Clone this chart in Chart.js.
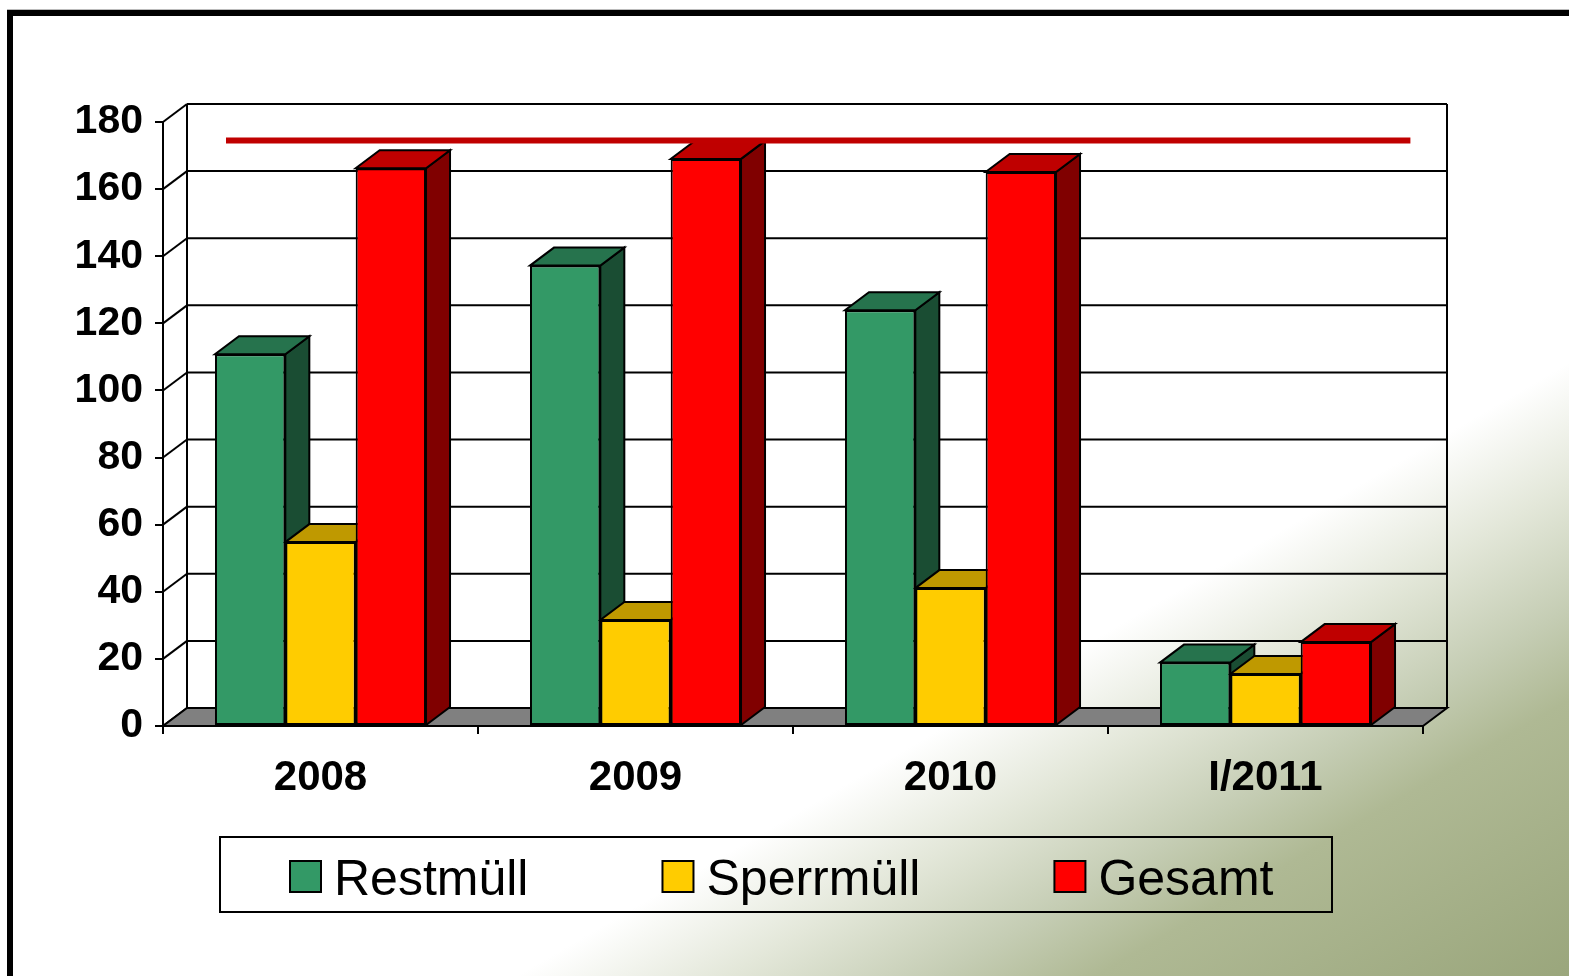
<!DOCTYPE html>
<html>
<head>
<meta charset="utf-8">
<script src="https://cdn.jsdelivr.net/npm/chart.js@4.4.1/dist/chart.umd.min.js"></script>
<style>
  html, body { margin: 0; padding: 0; background: #fff; }
  #wrap { width: 1569px; height: 976px; }
</style>
</head>
<body>
<div id="wrap"><canvas id="chart" width="1569" height="976"></canvas></div>
<script>
// Daten
const categories = ['2008', '2009', '2010', 'I/2011'];
const restmuell = [110.8, 137.2, 123.9, 18.9];
const sperrmuell = [54.8, 31.6, 41.1, 15.5];
const gesamt = [166.2, 169.0, 165.1, 25.0];
const limitLevel = 174.5;
const limitSpan = [-0.3, 3.46]; // in Kategorie-Einheiten
const yMin = 0, yMax = 180, yStep = 20;

const FONT = '"Liberation Sans", Arial, sans-serif';
// 3D-Tiefe
const DX = 24, DY = -18;

function poly(ctx, pts, fill) {
    ctx.beginPath();
    ctx.moveTo(pts[0][0], pts[0][1]);
    for (let i = 1; i < pts.length; i++) ctx.lineTo(pts[i][0], pts[i][1]);
    ctx.closePath();
    if (fill) { ctx.fillStyle = fill; ctx.fill(); }
    ctx.stroke();
}

function line(ctx, x1, y1, x2, y2) {
    ctx.beginPath();
    ctx.moveTo(x1, y1);
    ctx.lineTo(x2, y2);
    ctx.stroke();
}

// Hintergrund mit Verlauf und Rahmen
const backgroundPlugin = {
    id: 'background',
    beforeDraw(chart) {
        const ctx = chart.ctx;
        const w = chart.width, h = chart.height;
        ctx.save();
        ctx.fillStyle = '#ffffff';
        ctx.fillRect(0, 0, w, h);
        const g = ctx.createLinearGradient(1045, 668, 1312, 1126);
        g.addColorStop(0, 'rgba(255,255,255,1)');
        g.addColorStop(0.2, '#e3e7d9');
        g.addColorStop(0.4, '#c5cdb4');
        g.addColorStop(0.55, '#afb994');
        g.addColorStop(1, '#9aa67c');
        ctx.fillStyle = g;
        ctx.fillRect(0, 0, w, h);
        ctx.fillStyle = '#bbbbbb';
        ctx.fillRect(7, 9, w - 7, 1);
        ctx.fillStyle = '#000000';
        ctx.fillRect(7, 10, w - 7, 6);
        ctx.fillRect(7, 10, 6, h - 10);
        ctx.restore();
    }
};

// Wände, Boden und 3D-Seiten der Säulen
const depthPlugin = {
    id: 'depth3d',
    beforeDatasetsDraw(chart) {
        const ctx = chart.ctx;
        const a = chart.chartArea;
        const ys = chart.scales.y;
        ctx.save();
        ctx.lineWidth = 2;
        ctx.strokeStyle = '#000';

        // Gitterlinien (Rückwand) und Seitenwand
        ys.ticks.forEach(t => {
            const py = ys.getPixelForValue(t.value);
            line(ctx, a.left, py, a.left + DX, py + DY);
            if (t.value > yMin) line(ctx, a.left + DX, py + DY, a.right + DX, py + DY);
        });
        line(ctx, a.left + DX, a.top + DY, a.left + DX, a.bottom + DY);
        line(ctx, a.right + DX, a.top + DY, a.right + DX, a.bottom + DY);

        // Boden
        poly(ctx, [[a.left, a.bottom], [a.right, a.bottom], [a.right + DX, a.bottom + DY], [a.left + DX, a.bottom + DY]], '#808080');

        // Seiten- und Deckflächen, von links nach rechts
        const metas = chart.getSortedVisibleDatasetMetas()
            .filter(m => m.type === 'bar')
            .sort((p, q) => p.index - q.index);
        categories.forEach((c, i) => {
            metas.forEach(m => {
                const el = m.data[i];
                const ds = chart.data.datasets[m.index];
                const l = el.x - el.width / 2, r = el.x + el.width / 2;
                const top = el.y, base = el.base;
                poly(ctx, [[r, top], [r + DX, top + DY], [r + DX, base + DY], [r, base]], ds.sideColor);
                poly(ctx, [[l, top], [r, top], [r + DX, top + DY], [l + DX, top + DY]], ds.topColor);
            });
        });
        ctx.restore();
    }
};

// Legende mit Rahmen
const legendPlugin = {
    id: 'boxLegend',
    afterDraw(chart) {
        const ctx = chart.ctx;
        const items = chart.data.datasets.filter(d => d.type !== 'line');
        ctx.save();
        ctx.lineWidth = 2;
        ctx.strokeStyle = '#000';
        ctx.strokeRect(220, 837, 1112, 75);
        ctx.font = '50px ' + FONT;
        ctx.textBaseline = 'alphabetic';
        let x = 290;
        items.forEach(d => {
            ctx.fillStyle = d.backgroundColor;
            ctx.fillRect(x, 861, 31, 31);
            ctx.strokeRect(x, 861, 31, 31);
            ctx.fillStyle = '#000';
            ctx.fillText(d.label, x + 44, 895);
            x += 44 + ctx.measureText(d.label).width + 134;
        });
        ctx.restore();
    }
};

function barSet(label, data, front, top, side) {
    return {
        label: label,
        data: data,
        backgroundColor: front,
        topColor: top,
        sideColor: side,
        borderColor: '#000',
        borderWidth: 2,
        borderSkipped: false,
        categoryPercentage: 0.67,
        barPercentage: 1.0,
        order: 1
    };
}

new Chart(document.getElementById('chart'), {
    type: 'bar',
    data: {
        labels: categories,
        datasets: [
            barSet('Restmüll', restmuell, '#339966', '#26734d', '#1a4d33'),
            barSet('Sperrmüll', sperrmuell, '#ffcc00', '#bf9900', '#806600'),
            barSet('Gesamt', gesamt, '#ff0000', '#bf0000', '#800000'),
            {
                type: 'line',
                label: 'Limit',
                parsing: false,
                data: [{ x: limitSpan[0], y: limitLevel }, { x: limitSpan[1], y: limitLevel }],
                borderColor: '#c00000',
                borderWidth: 6,
                pointRadius: 0,
                fill: false,
                order: 0
            }
        ]
    },
    options: {
        responsive: false,
        animation: false,
        devicePixelRatio: 1,
        layout: { padding: { top: 122, right: 146, left: 0, bottom: 0 } },
        plugins: {
            legend: { display: false },
            tooltip: { enabled: false }
        },
        scales: {
            x: {
                bounds: 'ticks',
                grid: { display: true, drawOnChartArea: false, drawTicks: true, tickLength: 8, color: '#000', lineWidth: 2 },
                border: { display: true, color: '#000', width: 2 },
                ticks: { color: '#000', font: { family: FONT, size: 42, weight: 'bold' }, padding: 19 },
                afterFit(scale) { scale.height = 250; }
            },
            y: {
                min: yMin,
                max: yMax,
                grid: { display: true, drawOnChartArea: false, drawTicks: true, tickLength: 8, color: '#000', lineWidth: 2 },
                border: { display: true, color: '#000', width: 2 },
                ticks: { stepSize: yStep, color: '#000', font: { family: FONT, size: 41, weight: 'bold' }, padding: 12 },
                afterFit(scale) { scale.width = 163; }
            }
        }
    },
    plugins: [backgroundPlugin, depthPlugin, legendPlugin]
});
</script>
</body>
</html>
